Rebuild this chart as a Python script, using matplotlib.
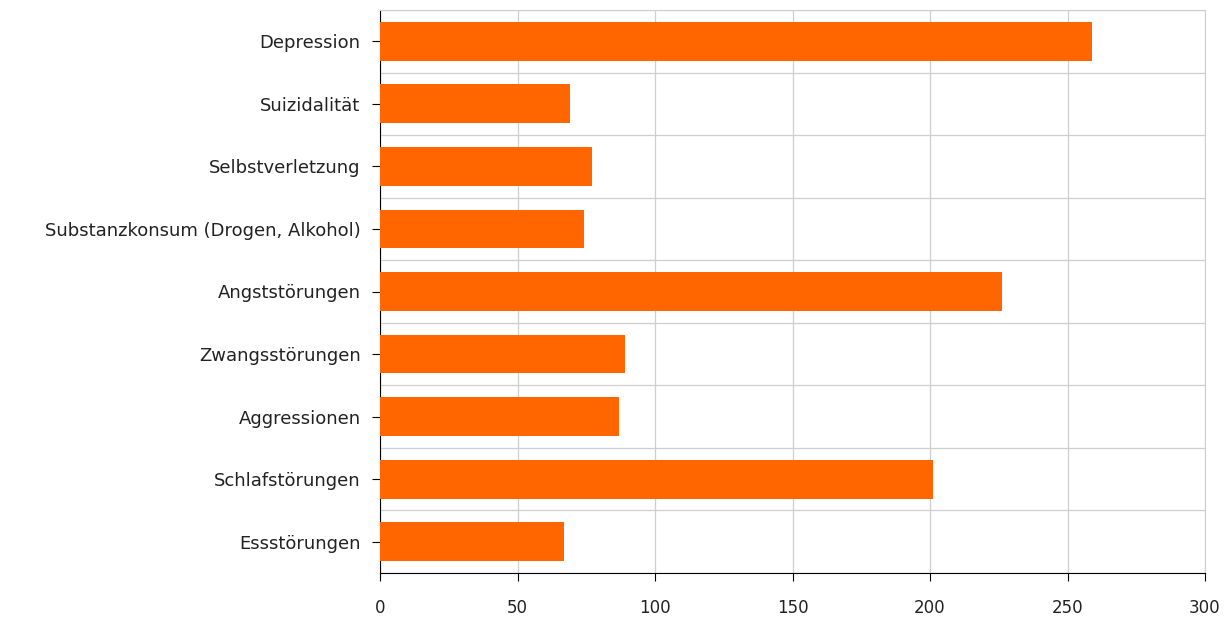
import matplotlib.pyplot as plt
import numpy as np

categories = ["Depression", "Suizidalität", "Selbstverletzung",
              "Substanzkonsum (Drogen, Alkohol)", "Angststörungen",
              "Zwangsstörungen", "Aggressionen", "Schlafstörungen",
              "Essstörungen"]
values = [259, 69, 77, 74, 226, 89, 87, 201, 67]
x_ticks = [0, 50, 100, 150, 200, 250, 300]

plt.rcParams['font.family'] = ['DejaVu Sans']

fig = plt.figure(figsize=(12.32, 6.19), dpi=100)
ax = fig.add_axes([380/1232, 1 - 573/619, 825/1232, 563/619])

y = np.arange(len(categories))
ax.barh(y, values, height=0.62, color='#ff6600', zorder=3)

ax.set_xlim(0, 300)
ax.set_ylim(len(categories) - 0.5, -0.5)
ax.set_xticks(x_ticks)
ax.set_yticks(y)
ax.set_yticklabels(categories, fontsize=13, color='#222222')
ax.tick_params(axis='x', labelsize=12, labelcolor='#222222', length=6, pad=13)
ax.tick_params(axis='y', length=6, pad=8)

# grid lines between categories
ax.set_yticks(np.arange(len(categories) + 1) - 0.5, minor=True)
ax.tick_params(axis='y', which='minor', length=0)
ax.grid(True, which='minor', axis='y', color='#cfcfcf', lw=0.9)
ax.grid(True, which='major', axis='x', color='#cfcfcf', lw=0.9)
ax.set_axisbelow(True)

for s in ['top', 'right']:
    ax.spines[s].set_color('#cfcfcf')
for s in ['left', 'bottom']:
    ax.spines[s].set_color('black')

fig.savefig('out.png', dpi=100)
